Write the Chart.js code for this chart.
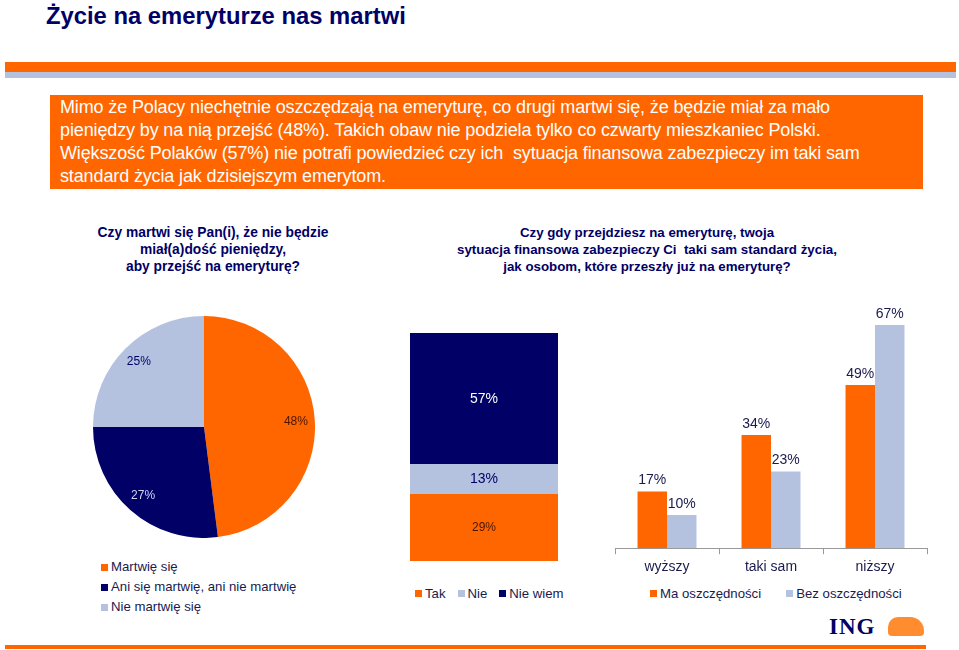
<!DOCTYPE html>
<html>
<head>
<meta charset="utf-8">
<script src="https://cdn.jsdelivr.net/npm/chart.js@4.4.0/dist/chart.umd.min.js"></script>
<style>
  body { margin: 0; width: 959px; height: 650px; position: relative; background: #fff; font-family: "Liberation Sans", Arial, sans-serif; overflow: hidden; }
  .abs { position: absolute; }
  #title { left: 46px; top: 2px; font-size: 23.8px; font-weight: bold; color: #000066; }
  #bar1 { left: 5px; top: 62px; width: 951px; height: 10px; background: #ff6600; }
  #bar2 { left: 5px; top: 72px; width: 951px; height: 6px; background: #b4c2e0; }
  #box { left: 50px; top: 95px; width: 853px; height: 93px; padding: 1px 10px 0 10px; background: #ff6600; color: #fff; font-size: 18px; letter-spacing: -0.13px; line-height: 23px; white-space: nowrap; }
  .q { font-weight: bold; color: #000066; font-size: 13.5px; line-height: 17px; text-align: center; white-space: nowrap; }
  #q1 { left: 63px; top: 224px; width: 300px; font-size: 13.8px; }
  #q2 { left: 447px; top: 224px; width: 400px; font-size: 13.3px; }
  .legend { font-size: 13.2px; color: #1a1a4d; white-space: nowrap; }
  .legend .item { display: flex; align-items: center; }
  .legend .sw { width: 7px; height: 7px; margin-right: 3px; }
  #legPie { left: 101px; top: 557px; line-height: 20px; }
  #legStack { left: 415px; top: 586px; display: flex; }
  #legStack .item { margin-right: 12px; }
  #legSave { left: 650px; top: 586px; display: flex; }
  #legSave .item { margin-right: 25px; }
  #ing { left: 829px; top: 614px; font-family: "Liberation Serif", "DejaVu Serif", serif; font-weight: bold; font-size: 23px; color: #000066; letter-spacing: 1px; }
  #lion { left: 888px; top: 617px; width: 36px; height: 19px; background: #ff8c2e; border-radius: 10px 14px 4px 4px; }
  #bottom { left: 5px; top: 645px; width: 921px; height: 4px; background: #ff6600; }
</style>
</head>
<body>
<div id="title" class="abs">Życie na emeryturze nas martwi</div>
<div id="bar1" class="abs"></div>
<div id="bar2" class="abs"></div>
<div id="box" class="abs">Mimo że Polacy niechętnie oszczędzają na emeryturę, co drugi martwi się, że będzie miał za mało<br>pieniędzy by na nią przejść (48%). Takich obaw nie podziela tylko co czwarty mieszkaniec Polski.<br>Większość Polaków (57%) nie potrafi powiedzieć czy ich &nbsp;sytuacja finansowa zabezpieczy im taki sam<br>standard życia jak dzisiejszym emerytom.</div>
<div id="q1" class="abs q">Czy martwi się Pan(i), że nie będzie<br>miał(a)dość pieniędzy,<br>aby przejść na emeryturę?</div>
<div id="q2" class="abs q">Czy gdy przejdziesz na emeryturę, twoja<br>sytuacja finansowa zabezpieczy Ci &nbsp;taki sam standard życia,<br>jak osobom, które przeszły już na emeryturę?</div>

<div class="abs" style="left:93px; top:316px; width:222px; height:222px;"><canvas id="pie"></canvas></div>
<div class="abs" style="left:410px; top:331px; width:148px; height:230px;"><canvas id="stack"></canvas></div>
<div class="abs" style="left:600px; top:292px; width:350px; height:290px;"><canvas id="save"></canvas></div>

<div id="legPie" class="abs legend"></div>
<div id="legStack" class="abs legend"></div>
<div id="legSave" class="abs legend"></div>

<div id="ing" class="abs">ING</div>
<div id="lion" class="abs"></div>
<div id="bottom" class="abs"></div>

<script>
// dane
const pieLabels = ['Martwię się', 'Ani się martwię, ani nie martwię', 'Nie martwię się'];
const pieValues = [48, 27, 25];

const stackLabels = ['Tak', 'Nie', 'Nie wiem'];
const stackValues = [29, 13, 57];

const levelCategories = ['wyższy', 'taki sam', 'niższy'];
const savingsLabels = ['Ma oszczędności', 'Bez oszczędności'];
const withSavings = [17, 34, 49];
const withoutSavings = [10, 23, 67];

// kolory
const ORANGE = '#ff6600', NAVY = '#000066', LIGHT = '#b4c2e0';
const pieColors = [ORANGE, NAVY, LIGHT];
const pieTextColors = ['#4a1500', '#d0d6f0', NAVY];
const stackColors = [ORANGE, LIGHT, NAVY];
const stackTextColors = ['#4a1500', NAVY, '#ffffff'];
const stackFontSizes = [12, 14, 14];
const saveColors = [ORANGE, LIGHT];

Chart.defaults.font.family = '"Liberation Sans", Arial, sans-serif';
Chart.defaults.animation = false;

// etykiety na wycinkach
const pieLabelPlugin = {
    id: 'pieLabels',
    afterDatasetsDraw(chart) {
        const ctx = chart.ctx;
        chart.getDatasetMeta(0).data.forEach((arc, i) => {
            const mid = (arc.startAngle + arc.endAngle) / 2;
            const r = arc.outerRadius * 0.83;
            ctx.save();
            ctx.font = '12px "Liberation Sans", Arial, sans-serif';
            ctx.fillStyle = pieTextColors[i];
            ctx.textAlign = 'center';
            ctx.textBaseline = 'middle';
            ctx.fillText(pieValues[i] + '%', arc.x + Math.cos(mid) * r, arc.y + Math.sin(mid) * r);
            ctx.restore();
        });
    }
};

new Chart(document.getElementById('pie'), {
    type: 'pie',
    data: { labels: pieLabels, datasets: [{ data: pieValues, backgroundColor: pieColors, borderWidth: 0 }] },
    options: {
        responsive: true, maintainAspectRatio: false,
        plugins: { legend: { display: false }, tooltip: { enabled: false } }
    },
    plugins: [pieLabelPlugin]
});

// etykiety w środku słupka
const stackLabelPlugin = {
    id: 'stackLabels',
    afterDatasetsDraw(chart) {
        const ctx = chart.ctx;
        chart.data.datasets.forEach((ds, i) => {
            const bar = chart.getDatasetMeta(i).data[0];
            const p = bar.getCenterPoint();
            ctx.save();
            ctx.font = stackFontSizes[i] + 'px "Liberation Sans", Arial, sans-serif';
            ctx.fillStyle = stackTextColors[i];
            ctx.textAlign = 'center';
            ctx.textBaseline = 'middle';
            ctx.fillText(ds.data[0] + '%', p.x, p.y);
            ctx.restore();
        });
    }
};

new Chart(document.getElementById('stack'), {
    type: 'bar',
    data: {
        labels: [''],
        datasets: stackLabels.map((l, i) => ({
            label: l, data: [stackValues[i]], backgroundColor: stackColors[i],
            barPercentage: 1, categoryPercentage: 1, borderWidth: 0
        }))
    },
    options: {
        responsive: true, maintainAspectRatio: false,
        scales: {
            x: { stacked: true, display: false },
            y: { stacked: true, display: false, min: 0, max: 100 }
        },
        plugins: { legend: { display: false }, tooltip: { enabled: false } }
    },
    plugins: [stackLabelPlugin]
});

// etykiety nad słupkami
const topLabelPlugin = {
    id: 'topLabels',
    afterDatasetsDraw(chart) {
        const ctx = chart.ctx;
        chart.data.datasets.forEach((ds, i) => {
            chart.getDatasetMeta(i).data.forEach((bar, j) => {
                ctx.save();
                ctx.font = '14px "Liberation Sans", Arial, sans-serif';
                ctx.fillStyle = '#1a1a4d';
                ctx.textAlign = 'center';
                ctx.textBaseline = 'bottom';
                ctx.fillText(ds.data[j] + '%', bar.x, bar.y - 4);
                ctx.restore();
            });
        });
    }
};

new Chart(document.getElementById('save'), {
    type: 'bar',
    data: {
        labels: levelCategories,
        datasets: [
            { label: savingsLabels[0], data: withSavings, backgroundColor: saveColors[0] },
            { label: savingsLabels[1], data: withoutSavings, backgroundColor: saveColors[1] }
        ]
    },
    options: {
        responsive: true, maintainAspectRatio: false,
        datasets: { bar: { barPercentage: 1, categoryPercentage: 0.567, borderWidth: 0 } },
        layout: { padding: { left: 15, right: 23, top: 23, bottom: 1 } },
        scales: {
            x: {
                grid: { drawOnChartArea: false, drawTicks: true, tickLength: 6, color: '#999', offset: true },
                border: { display: true, color: '#999' },
                ticks: { color: '#1a1a4d', font: { size: 14 }, padding: 5 }
            },
            y: { display: false, min: 0, max: 70 }
        },
        plugins: { legend: { display: false }, tooltip: { enabled: false } }
    },
    plugins: [topLabelPlugin]
});

// legendy
function legend(id, labels, colors) {
    const el = document.getElementById(id);
    labels.forEach((l, i) => {
        const item = document.createElement('div');
        item.className = 'item';
        item.innerHTML = '<span class="sw" style="background:' + colors[i] + '"></span>' + l;
        el.appendChild(item);
    });
}
legend('legPie', pieLabels, pieColors);
legend('legStack', stackLabels, stackColors);
legend('legSave', savingsLabels, saveColors);
</script>
</body>
</html>
